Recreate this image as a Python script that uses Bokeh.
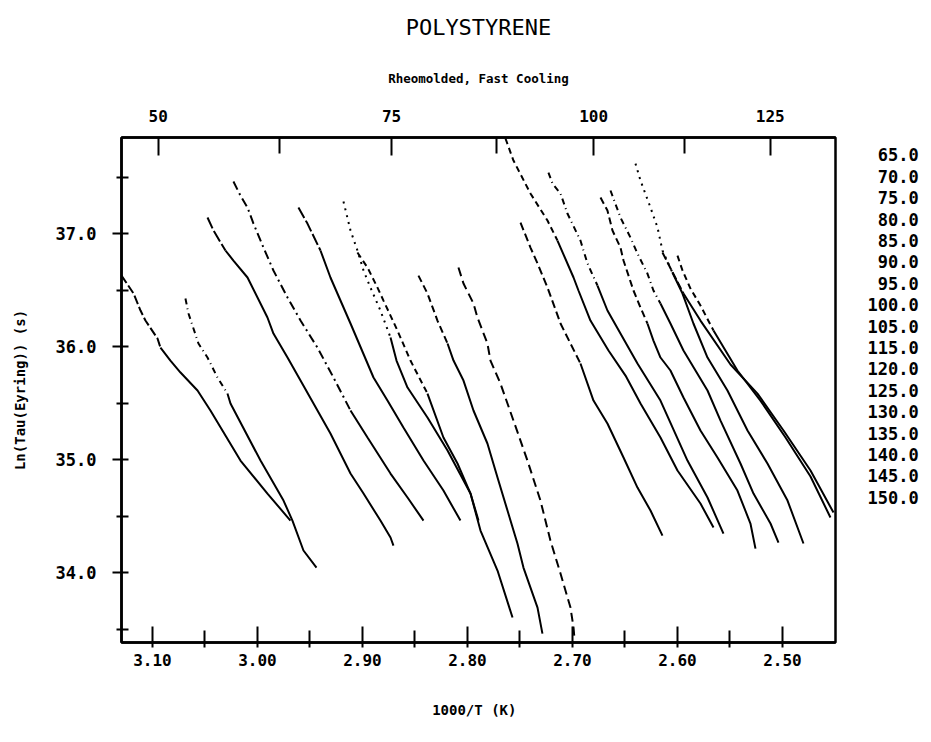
from bokeh.plotting import figure
from bokeh.models import (Range1d, LinearAxis, FixedTicker, PrintfTickFormatter,
                          CustomJSTickFormatter)
from bokeh.embed import file_html
from bokeh.resources import INLINE

# ---------------- data ----------------
legend_labels = ["65.0", "70.0", "75.0", "80.0", "85.0", "90.0", "95.0", "100.0", "105.0",
                 "115.0", "120.0", "125.0", "130.0", "135.0", "140.0", "145.0", "150.0"]

x_65 = [3.1295, 3.118, 3.1114, 3.1067, 3.0952, 3.0924, 3.0829, 3.0733, 3.0571, 3.0448, 3.0162, 2.9905, 2.9686]
y_65 = [36.628, 36.469, 36.319, 36.23, 36.071, 35.991, 35.876, 35.77, 35.611, 35.434, 34.991, 34.699, 34.46]

x_70 = [3.0686, 3.0657, 3.0562, 3.0476, 3.0381, 3.0286, 3.0257, 2.9971, 2.9752, 2.9667, 2.9562, 2.9438]
y_70 = [36.425, 36.292, 36.027, 35.903, 35.726, 35.584, 35.496, 34.991, 34.637, 34.46, 34.195, 34.044]

x_75 = [3.0476, 3.0419, 3.0305, 3.0229, 3.0095, 2.9905, 2.9848, 2.9714, 2.959, 2.9305, 2.9114, 2.899, 2.8829, 2.8733, 2.8705]
y_75 = [37.142, 37.027, 36.85, 36.761, 36.611, 36.257, 36.115, 35.903, 35.699, 35.23, 34.876, 34.699, 34.46, 34.31, 34.239]

x_80 = [3.0229, 3.0162, 3.0095, 3.0038, 2.9943, 2.9848, 2.9714, 2.959, 2.9429, 2.9276, 2.9114, 2.8952, 2.8733, 2.8571, 2.8419]
y_80 = [37.46, 37.336, 37.23, 37.088, 36.876, 36.673, 36.434, 36.23, 35.991, 35.726, 35.434, 35.195, 34.876, 34.664, 34.46]

x_85 = [2.961, 2.9524, 2.94, 2.9305, 2.9114, 2.8895, 2.8762, 2.861, 2.8419, 2.8229, 2.8067]
y_85 = [37.23, 37.088, 36.85, 36.611, 36.204, 35.726, 35.522, 35.283, 34.991, 34.726, 34.46]

x_90 = [2.9181, 2.9114, 2.9048, 2.899, 2.8924, 2.8829, 2.8733, 2.8676, 2.8571, 2.8381, 2.819, 2.7971, 2.7876, 2.7714, 2.7571]
y_90 = [37.283, 37.027, 36.85, 36.673, 36.522, 36.319, 36.08, 35.876, 35.637, 35.372, 35.08, 34.699, 34.372, 34.018, 33.602]

x_95 = [2.9048, 2.8952, 2.8857, 2.88, 2.8667, 2.8543, 2.8381, 2.8229, 2.8095, 2.7971, 2.7895]
y_95 = [36.832, 36.699, 36.522, 36.407, 36.142, 35.876, 35.584, 35.195, 34.965, 34.699, 34.46]

x_100 = [2.8467, 2.8381, 2.8286, 2.819, 2.8133, 2.8038, 2.7943, 2.781, 2.7714, 2.7619, 2.7524, 2.7467, 2.74, 2.7333, 2.7286]
y_100 = [36.628, 36.469, 36.23, 36.027, 35.876, 35.699, 35.434, 35.142, 34.841, 34.549, 34.257, 34.044, 33.867, 33.69, 33.46]

x_105 = [2.8086, 2.8038, 2.7943, 2.7905, 2.781, 2.7781, 2.7686, 2.7562, 2.7429, 2.7305, 2.721, 2.7114, 2.7019, 2.699, 2.6981]
y_105 = [36.699, 36.558, 36.381, 36.257, 36.027, 35.876, 35.673, 35.345, 34.991, 34.637, 34.283, 33.991, 33.69, 33.513, 33.416]

x_115 = [2.7638, 2.7562, 2.74, 2.7238, 2.7143, 2.699, 2.6943, 2.6829, 2.6657, 2.6495, 2.6352, 2.6162, 2.6, 2.5781, 2.5657]
y_115 = [37.841, 37.646, 37.354, 37.115, 36.938, 36.611, 36.496, 36.23, 35.965, 35.743, 35.496, 35.195, 34.903, 34.611, 34.398]

x_120 = [2.7495, 2.74, 2.7333, 2.7238, 2.721, 2.7114, 2.6924, 2.68, 2.6667, 2.6514, 2.6381, 2.6257, 2.6143]
y_120 = [37.097, 36.876, 36.735, 36.522, 36.451, 36.204, 35.85, 35.522, 35.319, 35.018, 34.752, 34.549, 34.327]

x_125 = [2.7229, 2.719, 2.7114, 2.7048, 2.6924, 2.6857, 2.6762, 2.6667, 2.6543, 2.6381, 2.6162, 2.5905, 2.5714, 2.5562]
y_125 = [37.54, 37.442, 37.354, 37.177, 36.938, 36.735, 36.54, 36.319, 36.115, 35.85, 35.522, 34.991, 34.664, 34.345]

x_130 = [2.6733, 2.6667, 2.6619, 2.6543, 2.6514, 2.6419, 2.6352, 2.6286, 2.6229, 2.6162, 2.6067, 2.5943, 2.5781, 2.5619, 2.5429, 2.5305, 2.5257]
y_130 = [37.319, 37.204, 37.027, 36.876, 36.761, 36.496, 36.345, 36.204, 36.053, 35.903, 35.788, 35.549, 35.257, 35.018, 34.726, 34.434, 34.212]

x_135 = [2.6638, 2.6543, 2.6448, 2.6381, 2.6286, 2.6229, 2.6162, 2.6067, 2.5943, 2.5714, 2.559, 2.54, 2.5276, 2.5114, 2.5038]
y_135 = [37.381, 37.142, 36.965, 36.823, 36.646, 36.496, 36.381, 36.204, 35.965, 35.611, 35.345, 34.965, 34.699, 34.434, 34.265]

x_140 = [2.64, 2.6352, 2.6257, 2.619, 2.6143, 2.6048, 2.5952, 2.5848, 2.5714, 2.5524, 2.5333, 2.5143, 2.4952, 2.48]
y_140 = [37.619, 37.469, 37.23, 37.053, 36.85, 36.655, 36.469, 36.204, 35.903, 35.611, 35.257, 34.965, 34.637, 34.257]

x_145 = [2.6143, 2.5943, 2.5781, 2.5495, 2.5238, 2.499, 2.4733, 2.4514]
y_145 = [36.832, 36.469, 36.23, 35.841, 35.584, 35.257, 34.903, 34.531]

x_150 = [2.6, 2.5952, 2.5876, 2.5781, 2.5657, 2.5429, 2.521, 2.4971, 2.4733, 2.4543]
y_150 = [36.805, 36.673, 36.513, 36.363, 36.142, 35.788, 35.522, 35.195, 34.85, 34.487]

bottom_major = [3.10, 3.00, 2.90, 2.80, 2.70, 2.60, 2.50]
bottom_minor = [3.05, 2.95, 2.85, 2.75, 2.65, 2.55]
left_major = [37.0, 36.0, 35.0, 34.0]
left_minor = [37.5, 36.5, 35.5, 34.5, 33.5]
top_major_c = [50, 75, 100, 125]
top_minor_c = [62.5, 87.5, 112.5]

chart_title = "POLYSTYRENE"
subtitle = "Rheomolded, Fast Cooling"

# ---------------- styling (not data) ----------------
curves = [(x_65, y_65), (x_70, y_70), (x_75, y_75), (x_80, y_80), (x_85, y_85),
          (x_90, y_90), (x_95, y_95), (x_100, y_100), (x_105, y_105), (x_115, y_115),
          (x_120, y_120), (x_125, y_125), (x_130, y_130), (x_135, y_135), (x_140, y_140),
          (x_145, y_145), (x_150, y_150)]
# (number of leading segments drawn with a broken pattern, pattern)
styles = [(5, "9 3"), (5, "6 4 1 4"), (2, "12 3"), (10, "9 4 2 4"), (2, "12 3"),
          (6, "2 5"), (6, "6 4"), (3, "7 4"), (14, "9 5"), (4, "6 4"),
          (6, "8 4"), (6, "6 4 1 4"), (7, "7 4"), (6, "6 4 1 4"), (5, "2 5"),
          (1, "8 3"), (4, "6 4")]

FONT = "DejaVu Sans Mono"
NBSP = "\u00a0"

p = figure(width=929, height=740, output_backend="svg", toolbar_location=None,
           x_range=Range1d(3.1295, 2.4495), y_range=Range1d(33.381, 37.85),
           x_axis_location=None, y_axis_location=None,
           min_border_left=121, min_border_right=94, min_border_top=137, min_border_bottom=98)
p.grid.visible = False
p.background_fill_color = "white"
p.border_fill_color = "white"
p.outline_line_color = "black"
p.outline_line_width = 2.5
p.title.visible = False


def style_axis(ax, tin, tout, min_in, min_out, size="16px"):
    ax.axis_line_width = 2.5
    ax.axis_line_color = "black"
    ax.major_tick_in = tin
    ax.major_tick_out = tout
    ax.minor_tick_in = min_in
    ax.minor_tick_out = min_out
    ax.major_tick_line_width = 2
    ax.minor_tick_line_width = 2
    ax.major_tick_line_color = "black"
    ax.minor_tick_line_color = "black"
    ax.major_label_text_font = FONT
    ax.major_label_text_font_style = "bold"
    ax.major_label_text_font_size = size
    ax.major_label_text_color = "black"
    ax.axis_label_text_font = FONT
    ax.axis_label_text_font_style = "bold"
    ax.axis_label_text_font_size = "14px"
    ax.axis_label_text_color = "black"


bottom = LinearAxis(ticker=FixedTicker(ticks=bottom_major, minor_ticks=bottom_minor),
                    formatter=PrintfTickFormatter(format="%.2f"),
                    axis_label="1000/T  (K)")
style_axis(bottom, 16, 5, 12, 5)
bottom.major_label_standoff = 6
bottom.axis_label_standoff = 33
p.add_layout(bottom, "below")

left = LinearAxis(ticker=FixedTicker(ticks=left_major, minor_ticks=left_minor),
                  formatter=PrintfTickFormatter(format="%.1f"),
                  axis_label="Ln(Tau(Eyring)) (s)")
style_axis(left, 7, 9, 7, 5, size="17px")
left.major_label_standoff = 16
left.axis_label_standoff = 25
p.add_layout(left, "left")

top_major = [1000.0 / (t + 273.15) for t in top_major_c]
top_minor = [1000.0 / (t + 273.15) for t in top_minor_c]
top = LinearAxis(ticker=FixedTicker(ticks=top_major, minor_ticks=top_minor),
                 formatter=CustomJSTickFormatter(code="return (1000/tick - 273.15).toFixed(0);"),
                 axis_label=subtitle)
style_axis(top, 18, 0, 16, 0)
top.major_label_standoff = 16
top.axis_label_standoff = 21
top.axis_label_text_font_size = "12.5px"
p.add_layout(top, "above")

# chart title, carried by a bare second top axis so its height can be set exactly
title_axis = LinearAxis(ticker=FixedTicker(ticks=[], minor_ticks=[]), axis_label=chart_title)
title_axis.axis_line_color = None
title_axis.major_tick_line_color = None
title_axis.minor_tick_line_color = None
title_axis.major_tick_in = 0
title_axis.major_tick_out = 0
title_axis.major_label_standoff = 0
title_axis.major_label_text_font_size = "0px"
title_axis.axis_label_standoff = 28
title_axis.axis_label_text_font = FONT
title_axis.axis_label_text_font_style = "normal"
title_axis.axis_label_text_font_size = "22px"
title_axis.axis_label_text_color = "black"
p.add_layout(title_axis, "above")

for (xs, ys), (k, dash) in zip(curves, styles):
    k = min(k, len(xs) - 1)
    if k > 0:
        p.line(xs[:k + 1], ys[:k + 1], line_color="black", line_width=2, line_dash=dash)
    if k < len(xs) - 1:
        p.line(xs[k:], ys[k:], line_color="black", line_width=2)

# right-hand list of temperatures, drawn as a tick-label column on the right
width_chars = max(len(t) for t in legend_labels)
padded = [NBSP * (width_chars - len(t)) + t for t in legend_labels]
p.extra_y_ranges = {"legend": Range1d(start=22.757, end=-0.841)}
right = LinearAxis(y_range_name="legend",
                   ticker=FixedTicker(ticks=list(range(len(legend_labels))), minor_ticks=[]),
                   formatter=CustomJSTickFormatter(args=dict(labels=padded),
                                                   code="return labels[Math.round(tick)];"))
right.axis_line_color = None
right.major_tick_line_color = None
right.minor_tick_line_color = None
right.major_tick_in = 0
right.major_tick_out = 0
right.major_label_standoff = 32
right.major_label_text_font = FONT
right.major_label_text_font_style = "bold"
right.major_label_text_font_size = "17px"
right.major_label_text_color = "black"
p.add_layout(right, "right")

open("out.html", "w").write(file_html(p, INLINE))
